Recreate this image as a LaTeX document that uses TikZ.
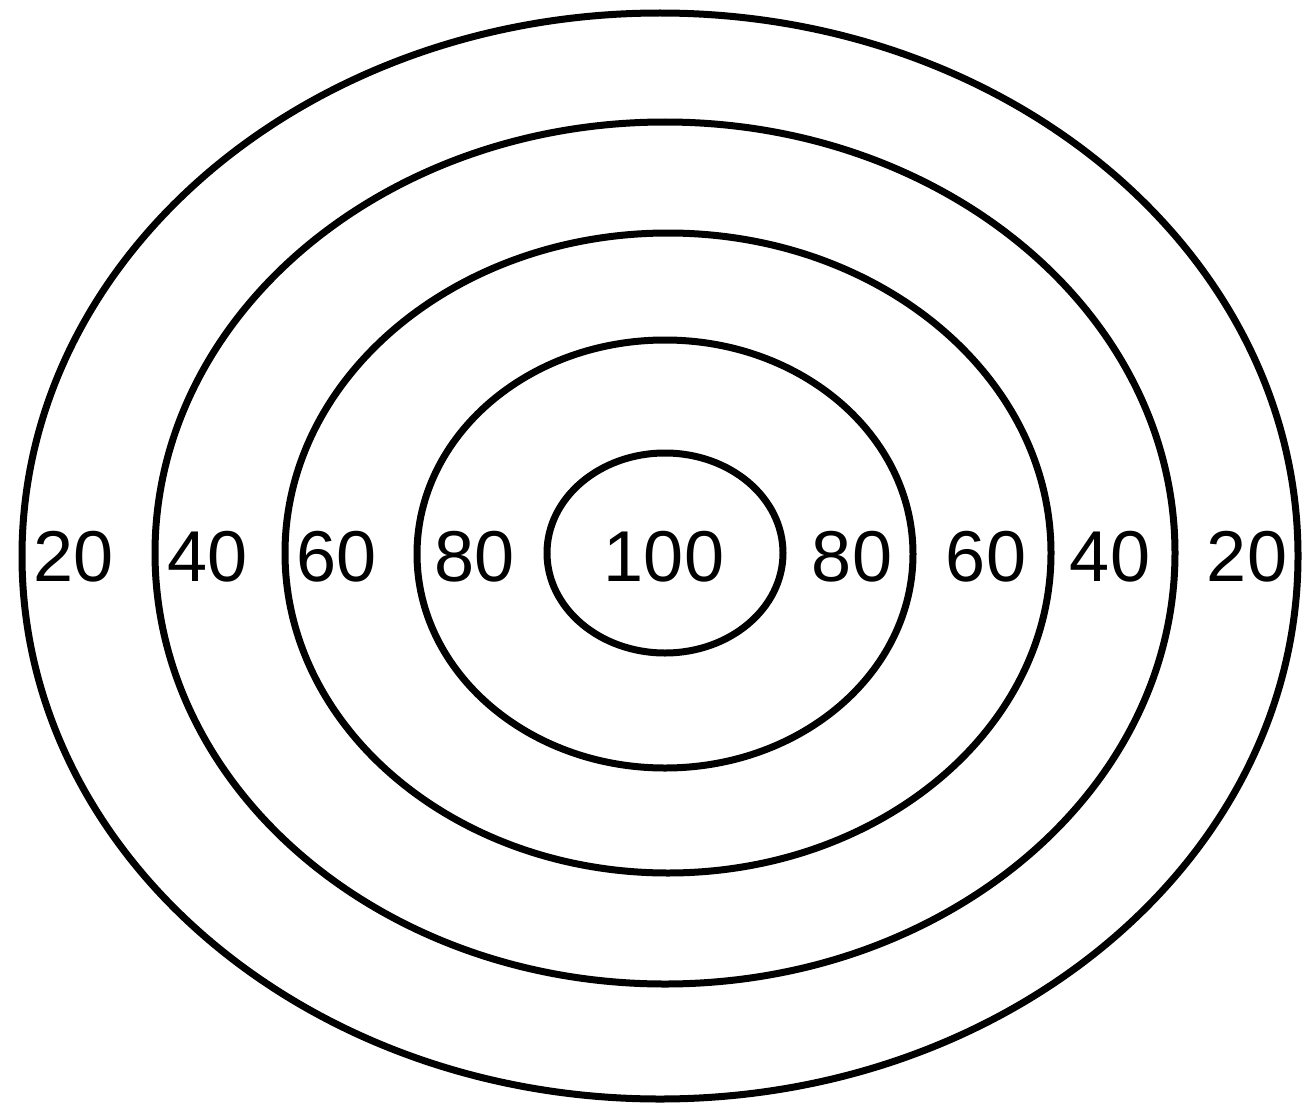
\documentclass[tikz,border=0pt]{standalone}
\usepackage{fontspec}
\setmainfont{Liberation Sans}
\begin{document}
\begin{tikzpicture}[x=1pt,y=-1pt,
  ring/.style={draw=black,line width=7pt},
  lbl/.style={font=\fontsize{72}{80}\selectfont,inner sep=0pt,anchor=center}]
\useasboundingbox[fill=white] (0,0) rectangle (1314,1105);
\draw[ring] (660,556) ellipse [x radius=638,y radius=543];
\draw[ring] (665,553) ellipse [x radius=510,y radius=431];
\draw[ring] (668,553) ellipse [x radius=383,y radius=320];
\draw[ring] (665,554) ellipse [x radius=248,y radius=214];
\draw[ring] (665,553) ellipse [x radius=118,y radius=100];
\node[lbl] (l20) at (74,557) {20};
\node[lbl] (l40) at (208,557) {40};
\node[lbl] (l60) at (337,557) {60};
\node[lbl] (l80) at (475,557) {80};
\node[lbl] (c100) at (664,557) {100};
\node[lbl] (r80) at (852,557) {80};
\node[lbl] (r60) at (986,557) {60};
\node[lbl] (r40) at (1110,557) {40};
\node[lbl] (r20) at (1247,557) {20};
\end{tikzpicture}
\end{document}
